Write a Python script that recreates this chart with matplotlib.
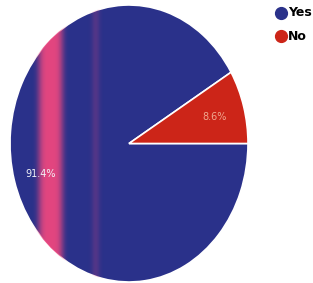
import numpy as np
import matplotlib.pyplot as plt

labels = ["Yes", "No"]
shares = [91.4, 8.6]
colors = ["#2a318a", "#cc2518"]
pct_colors = ["#f2f2f8", "#f0a890"]

fig = plt.figure(figsize=(3.13, 2.83), dpi=100)
ax = fig.add_axes([10 / 313, 1 / 283, 238 / 313, 277 / 283])

start = shares[1] / 100 * 360
wedges, texts, autotexts = ax.pie(
    shares, colors=colors, startangle=start, counterclock=True,
    autopct="%.1f%%", pctdistance=0.78,
    wedgeprops=dict(edgecolor="white", linewidth=1.2),
    textprops=dict(fontsize=7),
)
for t, c in zip(autotexts, pct_colors):
    t.set_color(c)
# nudge labels to where they sit in the scan
autotexts[0].set_position((-0.74, -0.22))
autotexts[1].set_position((0.72, 0.19))

ax.set_aspect("auto")
ax.set_xlim(-1, 1)
ax.set_ylim(-1, 1)
ax.axis("off")

# scanner streaks across the blue slice
xs = np.linspace(-1, 1, 400)
pink = np.exp(-((xs + 0.66) / 0.105) ** 4)
purple = 0.35 * np.exp(-((xs + 0.28) / 0.035) ** 2)
img = np.zeros((1, len(xs), 4))
img[0, :, 0] = 0.93
img[0, :, 1] = 0.28
img[0, :, 2] = 0.50
img[0, :, 3] = np.clip(pink * 0.95 + purple * 0.6, 0, 1)
im = ax.imshow(img, extent=(-1, 1, -1, 1), aspect="auto", zorder=1.5,
               interpolation="bilinear")
im.set_clip_path(wedges[0])
for t in autotexts:
    t.set_zorder(3)

# legend drawn by hand so it fits in the narrow right margin
leg_x = 281 / 313
for i, (lab, c) in enumerate(zip(labels, colors)):
    y = 1 - (13 + 23 * i) / 283
    fig.add_artist(plt.Line2D([leg_x], [y], marker="o", markersize=8.5,
                              color=c, transform=fig.transFigure))
    fig.text(leg_x + 7 / 313, y, lab, fontsize=9, fontweight="bold",
             va="center", ha="left")

fig.savefig("out.png", dpi=100)
